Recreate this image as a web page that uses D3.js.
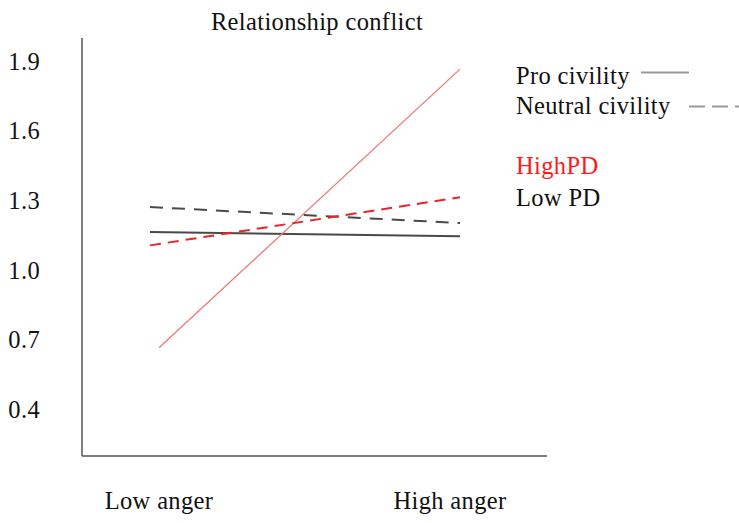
<!DOCTYPE html>
<html>
<head>
<meta charset="utf-8">
<script src="https://cdn.jsdelivr.net/npm/d3@7"></script>
<style>
  body { margin: 0; background: #fff; }
  text { font-family: "Liberation Serif", "Times New Roman", serif; letter-spacing: 0.35px; fill: #111; }
</style>
</head>
<body>
<div id="chart"></div>
<script>
var categories = ["Low anger", "High anger"];
var yTicks = [0.4, 0.7, 1.0, 1.3, 1.6, 1.9];

// relationship conflict by civility x PD
var proLowPD = [1.165, 1.146];
var neutralLowPD = [1.272, 1.203];
var proHighPD = [0.666, 1.866];
var neutralHighPD = [1.107, 1.314];

var svgSize = {w: 739, h: 523};
var fs = 24.5;

var svg = d3.select("#chart").append("svg")
  .attr("width", svgSize.w)
  .attr("height", svgSize.h);

var y = d3.scaleLinear().domain([0.2, 2.0]).range([456, 38]);
var x = d3.scalePoint().domain(categories).range([150, 460]);

// axes lines
svg.append("line")
  .attr("x1", 82).attr("x2", 82).attr("y1", 38).attr("y2", 456)
  .attr("stroke", "#555").attr("stroke-width", 1.5);
svg.append("line")
  .attr("x1", 82).attr("x2", 547).attr("y1", 456).attr("y2", 456)
  .attr("stroke", "#555").attr("stroke-width", 1.5);

// y tick labels
svg.selectAll(".ytick").data(yTicks).enter().append("text")
  .attr("class", "ytick")
  .attr("x", 40)
  .attr("y", function(d){ return y(d) + 8.5; })
  .attr("text-anchor", "end")
  .attr("font-size", fs)
  .text(function(d){ return d.toFixed(1); });

// x labels
var xLabelPos = {"Low anger": 159, "High anger": 450};
svg.selectAll(".xlab").data(categories).enter().append("text")
  .attr("class", "xlab")
  .attr("x", function(d){ return xLabelPos[d]; })
  .attr("y", 509)
  .attr("text-anchor", "middle")
  .attr("font-size", fs)
  .text(function(d){ return d; });

// title
svg.append("text")
  .attr("x", 317).attr("y", 30)
  .attr("text-anchor", "middle")
  .attr("font-size", fs)
  .text("Relationship conflict");

var line = d3.line()
  .x(function(d, i){ return x(categories[i]); })
  .y(function(d){ return y(d); });

// low PD lines (black/grey)
svg.append("path").datum(proLowPD)
  .attr("d", line).attr("fill", "none")
  .attr("stroke", "#4a4a4a").attr("stroke-width", 2);
svg.append("path").datum(neutralLowPD)
  .attr("d", line).attr("fill", "none")
  .attr("stroke", "#4a4a4a").attr("stroke-width", 2)
  .attr("stroke-dasharray", "13,9");

// high PD lines (red)
svg.append("path").datum(proHighPD)
  .attr("d", d3.line()
    .x(function(d, i){ return i === 0 ? x(categories[0]) + 9 : x(categories[1]); })
    .y(function(d){ return y(d); }))
  .attr("fill", "none")
  .attr("stroke", "#ef7878").attr("stroke-width", 1.3);
svg.append("path").datum(neutralHighPD)
  .attr("d", line).attr("fill", "none")
  .attr("stroke", "#e8262a").attr("stroke-width", 2)
  .attr("stroke-dasharray", "11,7");

// legend
svg.append("text").attr("x", 516).attr("y", 84).attr("font-size", fs).text("Pro civility");
svg.append("line").attr("x1", 641).attr("x2", 689).attr("y1", 72.5).attr("y2", 72.5)
  .attr("stroke", "#999").attr("stroke-width", 2.2);
svg.append("text").attr("x", 516).attr("y", 114).attr("font-size", fs).text("Neutral civility");
svg.append("line").attr("x1", 689).attr("x2", 739).attr("y1", 106.5).attr("y2", 106.5)
  .attr("stroke", "#999").attr("stroke-width", 2.2).attr("stroke-dasharray", "16,7");
svg.append("text").attr("x", 516).attr("y", 174).attr("font-size", fs)
  .style("fill", "#ff1a1a").text("HighPD");
svg.append("text").attr("x", 516).attr("y", 206).attr("font-size", fs).text("Low PD");
</script>
</body>
</html>
